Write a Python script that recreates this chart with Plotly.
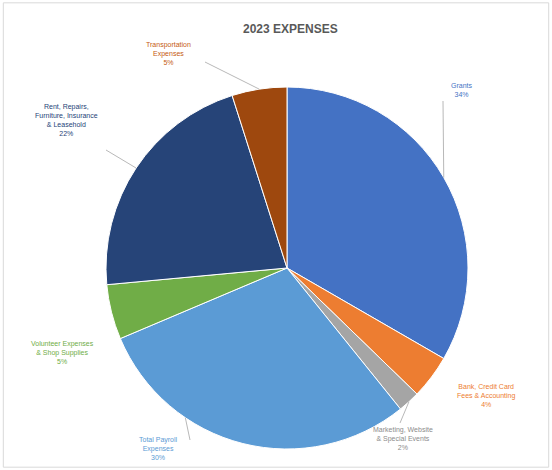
import math
import plotly.graph_objects as go

categories = ["Grants", "Bank, Credit Card Fees & Accounting", "Marketing, Website & Special Events",
              "Total Payroll Expenses", "Volunteer Expenses & Shop Supplies",
              "Rent, Repairs, Furniture, Insurance & Leasehold", "Transportation Expenses"]
display_labels = ["Grants", "Bank, Credit Card<br>Fees & Accounting", "Marketing, Website<br>& Special Events",
                  "Total Payroll<br>Expenses", "Volunteer Expenses<br>& Shop Supplies",
                  "Rent, Repairs,<br>Furniture, Insurance<br>& Leasehold", "Transportation<br>Expenses"]
values = [34, 4, 2, 30, 5, 22, 5]
colors = ["#4472C4", "#ED7D31", "#A5A5A5", "#5B9BD5", "#70AD47", "#264478", "#9E480E"]
text_colors = ["#4472C4", "#ED7D31", "#8C8C8C", "#5B9BD5", "#70AD47", "#264478", "#C55A11"]

W, H = 552, 470
cx, cy, R = 287, 268, 181

fig = go.Figure(go.Pie(
    labels=categories, values=values, sort=False, direction="clockwise", rotation=0,
    marker=dict(colors=colors, line=dict(color="white", width=1)),
    textinfo="none", showlegend=False, hoverinfo="label+percent",
    domain=dict(x=[(cx - R) / W, (cx + R) / W], y=[1 - (cy + R) / H, 1 - (cy - R) / H]),
))

def px(x, y):
    return x / W, 1 - y / H

# label centres (pixels) and leader line start points
label_pos = [(462, 90), (486, 395), (403, 438), (158, 448), (62, 352), (66, 120), (168, 53)]
leader_from = [(443, 101), None, (400, 423), (190, 440), None, (106, 150), (205, 62)]
leader_angle_shift = [0.0, 0.0, 0.0, 0.35, 0.0, 0.0, 0.0]

total = sum(values)
cum = 0
annotations = []
shapes = []
for i, v in enumerate(values):
    mid = (cum + v / 2) / total * 2 * math.pi + leader_angle_shift[i]
    cum += v
    ex, ey = cx + R * math.sin(mid), cy - R * math.cos(mid)
    lx, ly = label_pos[i]
    ax, ay = px(lx, ly)
    annotations.append(dict(
        x=ax, y=ay, xref="paper", yref="paper", showarrow=False, xanchor="center", yanchor="middle",
        text=f"{display_labels[i]}<br>{v}%", align="center",
        font=dict(size=7, color=text_colors[i], family="Liberation Sans"),
    ))
    if leader_from[i] is not None:
        x0, y0 = px(*leader_from[i])
        x1, y1 = px(ex, ey)
        shapes.append(dict(type="line", xref="paper", yref="paper", x0=x0, y0=y0, x1=x1, y1=y1,
                           line=dict(color="#A6A6A6", width=0.8)))

annotations.append(dict(
    x=px(290, 29)[0], y=px(290, 29)[1], xref="paper", yref="paper", showarrow=False,
    xanchor="center", yanchor="middle",
    text="<b>2023 EXPENSES</b>", font=dict(size=12, color="#595959", family="Liberation Sans"),
))
shapes.append(dict(type="rect", xref="paper", yref="paper", x0=0.006, y0=0.006, x1=0.994, y1=0.994,
                   line=dict(color="#D9D9D9", width=1)))

fig.update_layout(width=W, height=H, autosize=False, margin=dict(l=0, r=0, t=0, b=0),
                  paper_bgcolor="white", plot_bgcolor="white",
                  annotations=annotations, shapes=shapes)
fig.write_html("out.html", config={"displayModeBar": False},
               post_script="document.body.style.margin='0';")
